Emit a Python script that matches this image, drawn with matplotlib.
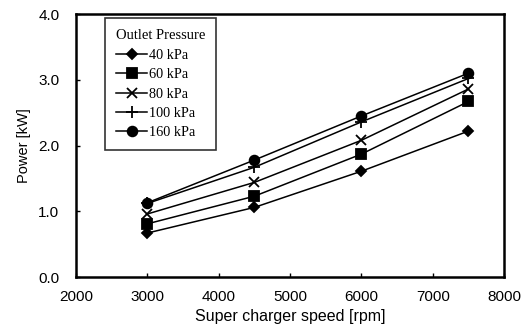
import matplotlib
matplotlib.use("Agg")
import matplotlib.pyplot as plt

# Super charger speed [rpm]
speed = [3000, 4500, 6000, 7500]

# Power [kW] for each outlet pressure
p40 = [0.67, 1.06, 1.61, 2.22]
p60 = [0.81, 1.23, 1.87, 2.67]
p80 = [0.96, 1.44, 2.08, 2.86]
p100 = [1.12, 1.67, 2.36, 3.02]
p160 = [1.13, 1.78, 2.45, 3.10]

labels = ["40 kPa", "60 kPa", "80 kPa", "100 kPa", "160 kPa"]
series = [p40, p60, p80, p100, p160]
markers = [("D", 5), ("s", 6.5), ("x", 7), ("+", 9), ("o", 7)]

plt.rcParams['font.family'] = ['Liberation Sans', 'DejaVu Sans']

fig = plt.figure(figsize=(5.29, 3.26), dpi=100)
ax = fig.add_axes([0.1437, 0.150, 0.8093, 0.807])

for vals, lab, (m, ms) in zip(series, labels, markers):
    ax.plot(speed, vals, color="black", lw=1.1, marker=m, markersize=ms,
            markeredgewidth=1.3, label=lab)

ax.set_xlim(2000, 8000)
ax.set_ylim(0, 4)
ax.set_xticks(range(2000, 8001, 1000))
ax.set_yticks([0, 1, 2, 3, 4])
ax.set_yticklabels(["0.0", "1.0", "2.0", "3.0", "4.0"])
ax.tick_params(direction="in", length=3, labelsize=11, width=1)
ax.tick_params(axis="x", pad=9)
ax.tick_params(axis="y", pad=12)
for sp in ax.spines.values():
    sp.set_linewidth(1.8)

ax.set_xlabel("Super charger speed [rpm]", fontsize=11.5, labelpad=4)
ax.set_ylabel("Power [kW]", fontsize=10.5, labelpad=5)

leg = ax.legend(loc="upper left", bbox_to_anchor=(0.068, 0.985), title="Outlet Pressure",
                prop={"family": "Liberation Serif", "size": 10.3},
                frameon=True, fancybox=False, edgecolor="black", handlelength=2.2,
                handletextpad=0.15, borderpad=0.75, borderaxespad=0, labelspacing=0.45)
leg.get_title().set_fontfamily("Liberation Serif")
leg.get_title().set_fontsize(10.5)
leg._legend_box.align = "left"
leg._legend_box.sep = 5
leg.get_frame().set_linewidth(1.2)

fig.savefig("out.png", dpi=100)
